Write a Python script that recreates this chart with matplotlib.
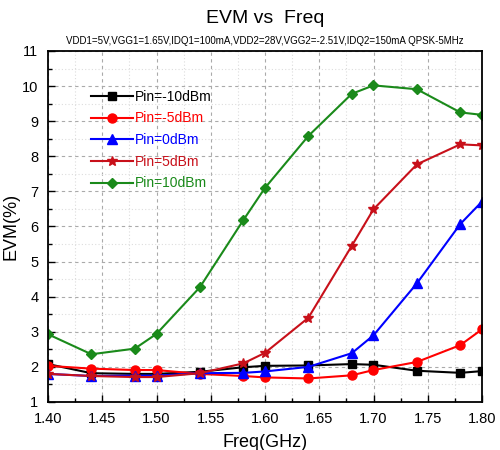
import matplotlib
matplotlib.use("Agg")
import matplotlib.pyplot as plt
from matplotlib.ticker import MultipleLocator

plt.rcParams['font.family'] = ['Liberation Sans', 'DejaVu Sans']

freq = [1.40, 1.44, 1.48, 1.50, 1.54, 1.58, 1.60, 1.64, 1.68, 1.70, 1.74, 1.78, 1.80]
pin_m10 = [2.08, 1.82, 1.80, 1.80, 1.86, 1.99, 2.03, 2.04, 2.08, 2.06, 1.89, 1.83, 1.88]
pin_m5 = [2.03, 1.95, 1.91, 1.91, 1.80, 1.74, 1.70, 1.67, 1.76, 1.91, 2.14, 2.62, 3.07]
pin_0 = [1.80, 1.74, 1.75, 1.75, 1.82, 1.83, 1.87, 2.00, 2.39, 2.90, 4.38, 6.07, 6.71]
pin_5 = [1.80, 1.74, 1.71, 1.71, 1.82, 2.10, 2.40, 3.40, 5.45, 6.49, 7.77, 8.34, 8.31]
pin_10 = [2.93, 2.36, 2.52, 2.94, 4.27, 6.18, 7.10, 8.58, 9.78, 10.02, 9.91, 9.25, 9.18]

labels = ["Pin=-10dBm", "Pin=-5dBm", "Pin=0dBm", "Pin=5dBm", "Pin=10dBm"]
series = [pin_m10, pin_m5, pin_0, pin_5, pin_10]
colors = ["#000000", "#ff0000", "#0000ff", "#c8101a", "#1a8a1a"]
markers = ["s", "o", "^", "*", "D"]
msizes = [5.5, 6.5, 6.5, 7.5, 5.5]

fig = plt.figure(figsize=(5, 4.5), dpi=100)
ax = fig.add_axes([0.096, 0.1067, 0.868, 0.78])

for y, lab, c, m, ms in zip(series, labels, colors, markers, msizes):
    ax.plot(freq, y, color=c, marker=m, markersize=ms, linewidth=1.5, label=lab)

ax.set_xlim(1.40, 1.80)
ax.set_ylim(1, 11)
ax.xaxis.set_major_locator(MultipleLocator(0.05))
ax.xaxis.set_minor_locator(MultipleLocator(0.025))
ax.yaxis.set_major_locator(MultipleLocator(1))
ax.yaxis.set_minor_locator(MultipleLocator(0.5))
ax.xaxis.set_major_formatter(matplotlib.ticker.FormatStrFormatter('%.2f'))
ax.tick_params(which='both', direction='in', top=False, right=False, labelsize=10.5)
ax.tick_params(axis='x', which='major', pad=7)
ax.tick_params(axis='y', which='major', pad=7)
ax.tick_params(which='major', length=5, width=1)
ax.tick_params(which='minor', length=3, width=1)
ax.grid(which='major', linestyle=(0, (3, 3)), color='#aaaaaa', linewidth=0.8)
ax.grid(which='minor', linestyle=(0, (1, 2)), color='#dddddd', linewidth=0.8)
ax.set_axisbelow(True)
for s in ax.spines.values():
    s.set_linewidth(1.3)

ax.set_xlabel("Freq(GHz)", fontsize=13, labelpad=6)
ax.set_ylabel("EVM(%)", fontsize=13, labelpad=2)

fig.text(0.53, 0.958, "EVM vs  Freq", ha='center', va='center', fontsize=14)
fig.text(0.53, 0.908, "VDD1=5V,VGG1=1.65V,IDQ1=100mA,VDD2=28V,VGG2=-2.51V,IDQ2=150mA QPSK-5MHz",
         ha='center', va='center', fontsize=7)

leg = ax.legend(loc='upper left', bbox_to_anchor=(0.07, 0.925), frameon=False,
                fontsize=10, handlelength=3, handletextpad=0.2, labelspacing=0.55)
for t, c in zip(leg.get_texts(), colors):
    t.set_color(c)

fig.savefig("out.png", dpi=100)
